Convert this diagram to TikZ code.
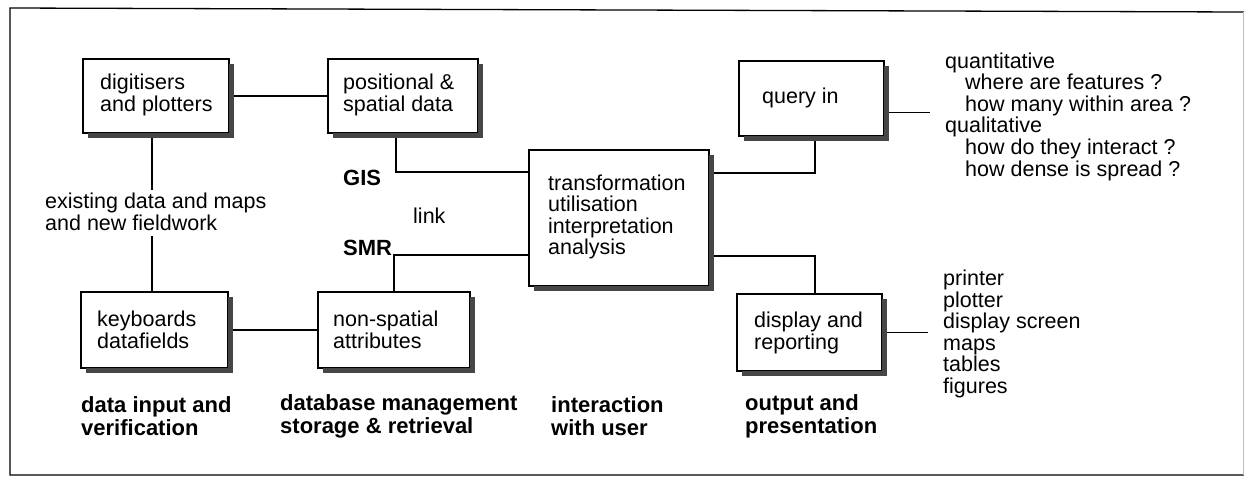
\documentclass[tikz,border=0pt]{standalone}
\usepackage{fontspec}
\setmainfont{Liberation Sans}
\pgfdeclarelayer{bg}
\pgfsetlayers{bg,main}
\definecolor{shadowgray}{RGB}{70,70,70}
\begin{document}
\begin{tikzpicture}[x=1pt,y=-1pt,
  box/.style={draw=black, line width=1.2pt, fill=white, inner sep=0pt},
  shd/.style={draw=shadowgray, line width=5pt, line cap=butt, line join=miter},
  txt/.style={anchor=west, align=left, inner sep=0pt, font=\fontsize{21.5}{21.6}\selectfont},
  lbl/.style={anchor=west, align=left, inner sep=0pt, font=\bfseries\fontsize{22}{23}\selectfont},
  conn/.style={line width=1.1pt}]
\useasboundingbox (0,0) rectangle (1244,477);
% frame
\draw[line width=1.3pt] (1244,12) -- (10,8) -- (10,475) -- (1244,475);
\draw[black!25, line width=0.8pt] (1243,12) -- (1243,475);
% boxes
\node[box, minimum width=146pt, minimum height=74pt] (dig) at (156,96) {};
\node[box, minimum width=150pt, minimum height=74pt] (pos) at (403,96) {};
\node[box, minimum width=147pt, minimum height=76pt] (kbd) at (154.5,330) {};
\node[box, minimum width=152pt, minimum height=76pt] (nsp) at (394,330) {};
\node[box, minimum width=180pt, minimum height=136pt] (ctr) at (619,218) {};
\node[box, minimum width=145pt, minimum height=75pt] (qry) at (811.5,98.5) {};
\node[box, minimum width=145pt, minimum height=77pt] (dsp) at (809.5,332.5) {};
% shadows (right and bottom bands)
\draw[shd] (231.5,64) -- (231.5,135.5) -- (88,135.5);
\draw[shd] (480.5,64) -- (480.5,135.5) -- (333,135.5);
\draw[shd] (230.5,297) -- (230.5,370.5) -- (86,370.5);
\draw[shd] (472.5,297) -- (472.5,370.5) -- (323,370.5);
\draw[shd] (711.5,155) -- (711.5,288.5) -- (534,288.5);
\draw[shd] (886.5,66) -- (886.5,138.5) -- (744,138.5);
\draw[shd] (884.5,299) -- (884.5,373.5) -- (742,373.5);
% box texts
\node[txt] (digT) at (100,95) {digitisers\\and plotters};
\node[txt] (posT) at (343,95) {positional \&\\spatial data};
\node[txt] (kbdT) at (97,330) {keyboards\\datafields};
\node[txt] (nspT) at (333,330) {non-spatial\\attributes};
\node[txt] (ctrT) at (548,217) {transformation\\utilisation\\interpretation\\analysis};
\node[txt] (qryT) at (762,98) {query in};
\node[txt] (dspT) at (754,333) {display and\\reporting};
% free texts
\node[txt] (ext) at (45,212) {existing data and maps\\and new fieldwork};
\node[lbl] (gis) at (343,177.5) {GIS};
\node[txt] (link) at (413,215.5) {link};
\node[lbl] (smr) at (343,248) {SMR};
\node[txt] (qlist) at (945,116.5) {quantitative\\\hspace*{20pt}where are features ?\\\hspace*{20pt}how many within area ?\\qualitative\\\hspace*{20pt}how do they interact ?\\\hspace*{20pt}how dense is spread ?};
\node[txt] (olist) at (943,334) {printer\\plotter\\display screen\\maps\\tables\\figures};
\node[lbl] (l1) at (81,416) {data input and\\verification};
\node[lbl] (l2) at (280,416) {database management\\storage \& retrieval};
\node[lbl] (l3) at (551,416) {interaction\\with user};
\node[lbl] (l4) at (745,416) {output and\\presentation};
\coordinate (qend) at (930,112.7);
\coordinate (dend) at (928,333.3);
% connectors
\begin{pgfonlayer}{bg}
\draw[conn] (dig.east) -- (pos.west);
\draw[conn] ([xshift=-4pt]dig.south) -- ([xshift=-4pt,yshift=3pt]dig.south |- ext.north);
\draw[conn] ([xshift=-2.5pt]kbd.north) -- ([xshift=-2.5pt,yshift=-5pt]kbd.north |- ext.south);
\draw[conn] (kbd.east) -- (nsp.west);
\draw[conn] ([xshift=-7pt]pos.south) |- ([yshift=46pt]ctr.west);
\draw[conn] (nsp.north) |- ([yshift=-37pt]ctr.west);
\draw[conn] ([yshift=45pt]ctr.east) -| ([xshift=3.5pt]qry.south);
\draw[conn] ([yshift=-38pt]ctr.east) -| ([xshift=5.5pt]dsp.north);
\draw[conn] ([yshift=-14.2pt]qry.east) -- (qend);
\draw[conn] (dsp.east) -- (dend |- dsp.east);
\end{pgfonlayer}
\end{tikzpicture}
\end{document}
